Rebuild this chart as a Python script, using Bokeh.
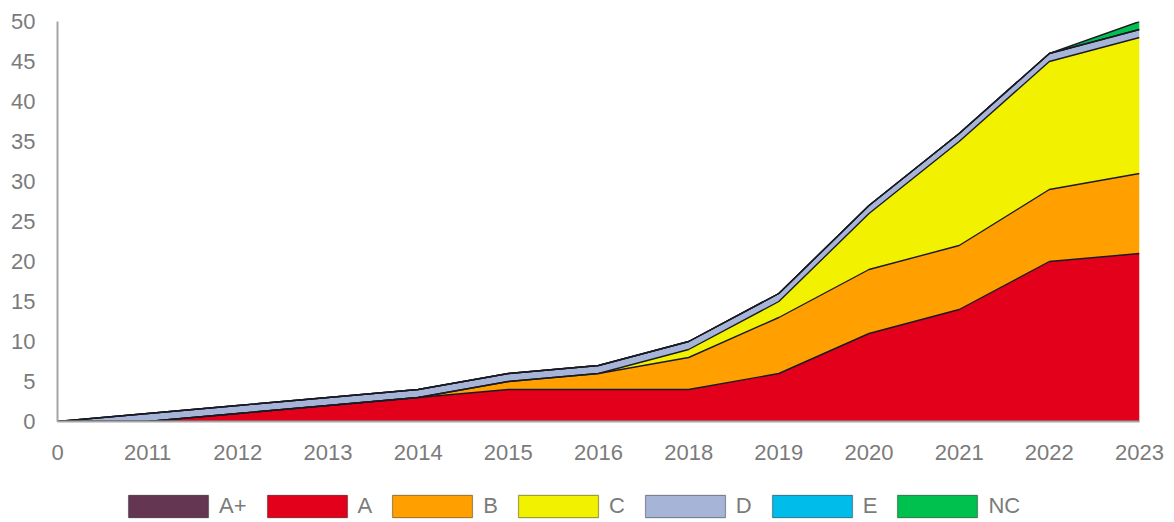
from bokeh.plotting import figure
from bokeh.models import Legend, LegendItem, FixedTicker, ColumnDataSource, Range1d
from bokeh.layouts import column
from bokeh.embed import file_html
from bokeh.resources import INLINE

categories = ["0", "2011", "2012", "2013", "2014", "2015", "2016", "2018", "2019", "2020", "2021", "2022", "2023"]
series_names = ["A+", "A", "B", "C", "D", "E", "NC"]
a_plus = [0, 0, 0, 0, 0, 0, 0, 0, 0, 0, 0, 0, 0]
a_vals = [0, 0, 1, 2, 3, 4, 4, 4, 6, 11, 14, 20, 21]
b_vals = [0, 0, 0, 0, 0, 1, 2, 4, 7, 8, 8, 9, 10]
c_vals = [0, 0, 0, 0, 0, 0, 0, 1, 2, 7, 13, 16, 17]
d_vals = [0, 1, 1, 1, 1, 1, 1, 1, 1, 1, 1, 1, 1]
e_vals = [0, 0, 0, 0, 0, 0, 0, 0, 0, 0, 0, 0, 0]
nc_vals = [0, 0, 0, 0, 0, 0, 0, 0, 0, 0, 0, 0, 1]
y_ticks = [0, 5, 10, 15, 20, 25, 30, 35, 40, 45, 50]

colors = ["#653652", "#E2001A", "#FFA000", "#F2F200", "#A6B5D7", "#00BCEB", "#00C04E"]
FONT = "Liberation Sans"
GREY = "#7b7b7b"
W = 1170

xs = list(range(len(categories)))
data = dict(x=xs)
for name, vals in zip(series_names, [a_plus, a_vals, b_vals, c_vals, d_vals, e_vals, nc_vals]):
    data[name] = vals
source = ColumnDataSource(data)

p = figure(width=W, height=468, output_backend="svg", toolbar_location=None,
           x_range=Range1d(0, len(categories) - 1), y_range=Range1d(0, 50),
           min_border_left=57, min_border_right=31, min_border_top=21, min_border_bottom=47)

p.varea_stack(stackers=series_names, x="x", color=colors, source=source)
p.vline_stack(stackers=series_names, x="x", color="#1a1a24", line_width=1.4, source=source)

p.xgrid.visible = False
p.ygrid.visible = False
p.outline_line_color = None

p.xaxis.ticker = FixedTicker(ticks=xs)
p.xaxis.major_label_overrides = {i: c for i, c in enumerate(categories)}
p.yaxis.ticker = FixedTicker(ticks=y_ticks)

for ax in (p.xaxis[0], p.yaxis[0]):
    ax.axis_line_color = "#a6a6a6"
    ax.axis_line_width = 2
    ax.major_tick_line_color = None
    ax.minor_tick_line_color = None
    ax.major_label_text_font = FONT
    ax.major_label_text_font_size = "22px"
    ax.major_label_text_color = GREY
p.xaxis.major_label_standoff = 17
p.yaxis.major_label_standoff = 16

# legend strip
lg = figure(width=W, height=52, output_backend="svg", toolbar_location=None,
            x_range=Range1d(0, 1), y_range=Range1d(0, 1),
            min_border_left=0, min_border_right=0, min_border_top=0, min_border_bottom=0)
lg.axis.visible = False
lg.xgrid.visible = False
lg.ygrid.visible = False
lg.outline_line_color = None

nan = float("nan")
items = []
for name, col in zip(series_names, colors):
    r = lg.quad(left=[nan], right=[nan], top=[nan], bottom=[nan],
                fill_color=col, line_color="black", line_alpha=0.35, line_width=1.2)
    items.append(LegendItem(label=name, renderers=[r]))

legend = Legend(items=items, orientation="horizontal", location=(61, 0),
                glyph_width=100, glyph_height=28, label_standoff=1, spacing=10, label_width=0,
                label_text_font=FONT, label_text_font_size="22px", label_text_color=GREY,
                border_line_color=None, background_fill_alpha=0, padding=0, margin=0)
lg.add_layout(legend, "center")

layout = column(p, lg, spacing=0)
open("out.html", "w").write(file_html(layout, INLINE))
